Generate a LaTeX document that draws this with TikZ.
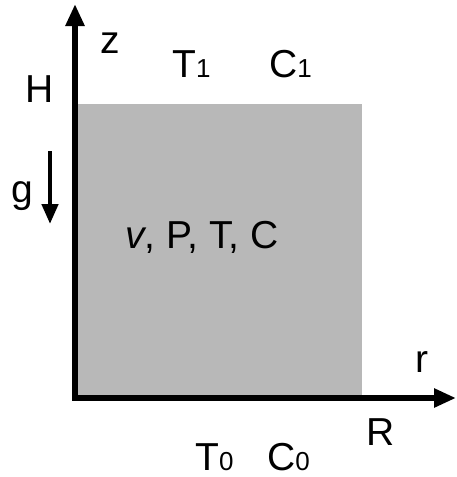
\documentclass[tikz,border=0pt]{standalone}
\usepackage{fontspec}
\setmainfont{Liberation Sans}
\usetikzlibrary{arrows.meta}
\begin{document}
\begin{tikzpicture}[x=1pt,y=-1pt,
  lbl/.style={inner sep=0pt,anchor=base west,font=\fontsize{39}{42}\selectfont},
  axis/.style={line width=5.5pt,-{Triangle[length=22pt,width=18pt]}},
  gvec/.style={line width=4.5pt,-{Triangle[length=20pt,width=16pt]}}]
\newcommand{\sbs}[1]{{\fontsize{26}{28}\selectfont #1}}
\useasboundingbox (0,0) rectangle (456,477);
\fill[black!28] (78,104) rectangle (362,396);
\coordinate (O) at (75,398);
\coordinate (ztip) at (75,4);
\coordinate (rtip) at (456,398);
\coordinate (gs) at (50,151);
\coordinate (ge) at (50,224);
\draw[axis] (72.25,398) -- (rtip);
\draw[axis] (75,400.75) -- (ztip);
\draw[gvec] (gs) -- (ge);
\node[lbl] (z) at (100,53) {z};
\node[lbl] (H) at (25,102) {H};
\node[lbl] (T1) at (172,77) {T\sbs{1}};
\node[lbl] (C1) at (269,77) {C\sbs{1}};
\node[lbl] (g) at (11,202) {g};
\node[lbl] (vars) at (125,248) {\textit{v}, P, T, C};
\node[lbl] (r) at (415,372) {r};
\node[lbl] (R) at (366,445) {R};
\node[lbl] (T0) at (195,470) {T\sbs{0}};
\node[lbl] (C0) at (267,470) {C\sbs{0}};
\end{tikzpicture}
\end{document}
